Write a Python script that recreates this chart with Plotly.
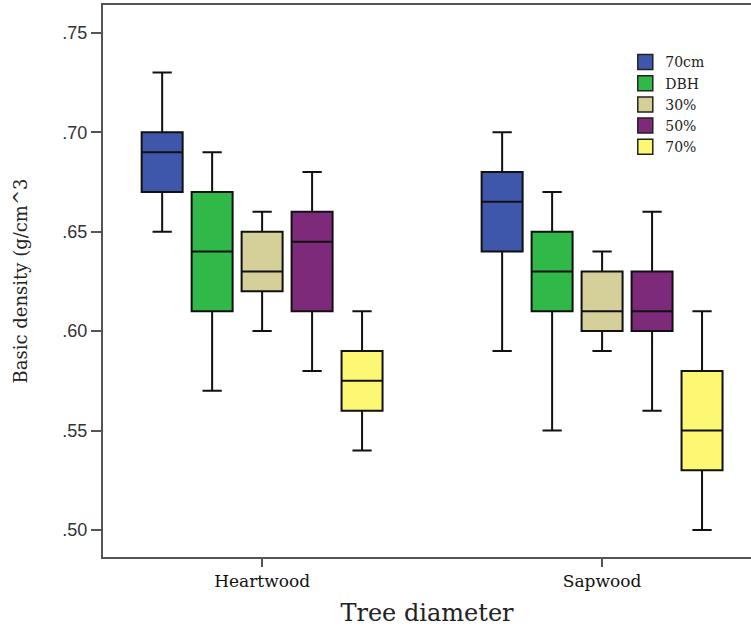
import plotly.graph_objects as go

# Wood sections on the x axis
sections = ["Heartwood", "Sapwood"]

# Sampling heights (legend order)
heights = ["70cm", "DBH", "30%", "50%", "70%"]
colors = ["#3F57AA", "#30B848", "#D5D09A", "#7D2A7B", "#FCF873"]

# Box summaries per height: [Heartwood, Sapwood]
upper_whisker = {
    "70cm": [0.73, 0.70], "DBH": [0.69, 0.67], "30%": [0.66, 0.64],
    "50%": [0.68, 0.66], "70%": [0.61, 0.61],
}
q3 = {
    "70cm": [0.70, 0.68], "DBH": [0.67, 0.65], "30%": [0.65, 0.63],
    "50%": [0.66, 0.63], "70%": [0.59, 0.58],
}
median = {
    "70cm": [0.69, 0.665], "DBH": [0.64, 0.63], "30%": [0.63, 0.61],
    "50%": [0.645, 0.61], "70%": [0.575, 0.55],
}
q1 = {
    "70cm": [0.67, 0.64], "DBH": [0.61, 0.61], "30%": [0.62, 0.60],
    "50%": [0.61, 0.60], "70%": [0.56, 0.53],
}
lower_whisker = {
    "70cm": [0.65, 0.59], "DBH": [0.57, 0.55], "30%": [0.60, 0.59],
    "50%": [0.58, 0.56], "70%": [0.54, 0.50],
}

y_ticks = [0.50, 0.55, 0.60, 0.65, 0.70, 0.75]
y_tick_text = [".50", ".55", ".60", ".65", ".70", ".75"]

fig = go.Figure()
for name, color in zip(heights, colors):
    fig.add_trace(go.Box(
        name=name,
        x=sections,
        q1=q1[name],
        median=median[name],
        q3=q3[name],
        lowerfence=lower_whisker[name],
        upperfence=upper_whisker[name],
        fillcolor=color,
        line=dict(color="#111111", width=2),
        whiskerwidth=0.47,
        boxpoints=False,
        hoverinfo="skip",
        showlegend=False,
        legendgroup=name,
    ))

# Square swatches for the legend
for name, color in zip(heights, colors):
    fig.add_trace(go.Scatter(
        name=name,
        x=[None], y=[None],
        mode="markers",
        marker=dict(symbol="square", size=15, color=color,
                    line=dict(color="#222222", width=1.5)),
        legendgroup=name,
        showlegend=True,
    ))

axis_color = "#555555"
fig.update_layout(
    width=751,
    height=627,
    margin=dict(l=103, r=0, t=5, b=70),
    paper_bgcolor="white",
    plot_bgcolor="white",
    boxmode="group",
    boxgap=0.265,
    boxgroupgap=0.18,
    showlegend=True,
    legend=dict(
        x=0.806, y=0.925, xanchor="left", yanchor="top",
        font=dict(family="DejaVu Serif", size=14, color="#222222"),
        bgcolor="rgba(0,0,0,0)",
        tracegroupgap=0,
        itemwidth=30,
        itemsizing="trace",
    ),
    xaxis=dict(
        type="category",
        range=[-0.468, 1.438],
        showgrid=False,
        zeroline=False,
        showline=True,
        linecolor=axis_color,
        linewidth=2,
        mirror=True,
        ticks="outside",
        ticklen=8,
        tickwidth=2,
        tickcolor=axis_color,
        tickfont=dict(family="DejaVu Serif", size=17, color="#111111"),
        title=dict(text="Tree diameter",
                   font=dict(family="DejaVu Serif", size=24, color="#222222"),
                   standoff=14),
    ),
    yaxis=dict(
        range=[0.4864, 0.764],
        tickvals=y_ticks,
        ticktext=y_tick_text,
        showgrid=False,
        zeroline=False,
        showline=True,
        linecolor=axis_color,
        linewidth=2,
        ticks="outside",
        ticklen=10,
        tickwidth=2,
        tickcolor=axis_color,
        tickfont=dict(family="Liberation Sans", size=18, color="#333333"),
        title=dict(text="Basic density (g/cm^3",
                   font=dict(family="DejaVu Serif", size=18, color="#222222"),
                   standoff=30),
    ),
)

fig.write_html("out.html")
